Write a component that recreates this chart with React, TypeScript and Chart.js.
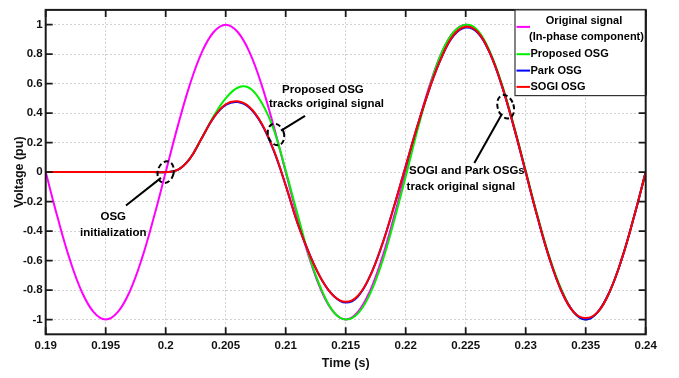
import React, { useEffect, useRef } from 'react';
import { Chart, registerables } from 'chart.js';

Chart.register(...registerables);

const FONT = "'Liberation Sans', Arial, sans-serif";

const time = [
  0.190, 0.191, 0.192, 0.193, 0.194, 0.195, 0.196, 0.197, 0.198, 0.199,
  0.200, 0.201, 0.202, 0.203, 0.204, 0.205, 0.206, 0.207, 0.208, 0.209,
  0.210, 0.211, 0.212, 0.213, 0.214, 0.215, 0.216, 0.217, 0.218, 0.219,
  0.220, 0.221, 0.222, 0.223, 0.224, 0.225, 0.226, 0.227, 0.228, 0.229,
  0.230, 0.231, 0.232, 0.233, 0.234, 0.235, 0.236, 0.237, 0.238, 0.239,
  0.240,
];

const original = [
  0, -0.31, -0.59, -0.81, -0.95, -1, -0.95, -0.81, -0.59, -0.31,
  0, 0.31, 0.59, 0.81, 0.95, 1, 0.95, 0.81, 0.59, 0.31,
  0, -0.31, -0.59, -0.81, -0.95, -1, -0.95, -0.81, -0.59, -0.31,
  0, 0.31, 0.59, 0.81, 0.95, 1, 0.95, 0.81, 0.59, 0.31,
  0, -0.31, -0.59, -0.81, -0.95, -1, -0.95, -0.81, -0.59, -0.31,
  0,
];

const proposedOSG = [
  0, 0, 0, 0, 0, 0, 0, 0, 0, 0,
  0, 0.015, 0.09, 0.23, 0.38, 0.5, 0.572, 0.57, 0.47, 0.29,
  0.01, -0.29, -0.58, -0.8, -0.95, -1, -0.96, -0.83, -0.62, -0.34,
  -0.03, 0.29, 0.58, 0.81, 0.95, 1, 0.96, 0.82, 0.6, 0.32,
  0.01, -0.3, -0.58, -0.8, -0.95, -1, -0.95, -0.81, -0.59, -0.31,
  0,
];

const parkOSG = [
  0, 0, 0, 0, 0, 0, 0, 0, 0, 0,
  0, 0.015, 0.09, 0.23, 0.37, 0.455, 0.475, 0.435, 0.325, 0.145,
  -0.09, -0.35, -0.56, -0.73, -0.84, -0.885, -0.845, -0.71, -0.5, -0.24,
  0.04, 0.32, 0.57, 0.78, 0.925, 0.98, 0.945, 0.81, 0.59, 0.31,
  0, -0.31, -0.59, -0.81, -0.95, -1, -0.95, -0.81, -0.59, -0.31,
  0,
];

const sogiOSG = [
  0, 0, 0, 0, 0, 0, 0, 0, 0, 0,
  0, 0.015, 0.09, 0.23, 0.37, 0.46, 0.48, 0.44, 0.33, 0.15,
  -0.09, -0.35, -0.56, -0.73, -0.84, -0.88, -0.84, -0.71, -0.5, -0.24,
  0.04, 0.32, 0.57, 0.78, 0.93, 0.985, 0.95, 0.81, 0.59, 0.31,
  0, -0.31, -0.59, -0.81, -0.95, -0.99, -0.95, -0.81, -0.59, -0.31,
  0,
];

const xTicks = [0.19, 0.195, 0.2, 0.205, 0.21, 0.215, 0.22, 0.225, 0.23, 0.235, 0.24];
const xTickLabels = ['0.19', '0.195', '0.2', '0.205', '0.21', '0.215', '0.22', '0.225', '0.23', '0.235', '0.24'];
const yTicks = [-1, -0.8, -0.6, -0.4, -0.2, 0, 0.2, 0.4, 0.6, 0.8, 1];
const yTickLabels = ['-1', '-0.8', '-0.6', '-0.4', '-0.2', '0', '0.2', '0.4', '0.6', '0.8', '1'];

const seriesNames = ['Original signal', 'Proposed OSG', 'Park OSG', 'SOGI OSG'];
const seriesColors = ['#ff00ff', '#00f000', '#0000ff', '#ff0000'];

// annotations in data units
const ellipses = [
  { t: 0.2, v: 0.0, rx: 8, ry: 11, rot: 0.25 },
  { t: 0.20919, v: 0.255, rx: 8, ry: 11, rot: -0.3 },
  { t: 0.22833, v: 0.443, rx: 8, ry: 12, rot: -0.3 },
];
const arrows = [
  { t1: 0.19669, v1: -0.227, t2: 0.19961, v2: -0.039 },
  { t1: 0.21161, v1: 0.381, t2: 0.20961, v2: 0.281 },
  { t1: 0.22572, v1: 0.061, t2: 0.22803, v2: 0.395 },
];
const notes = [
  { t: 0.19563, v: -0.305, text: 'OSG' },
  { t: 0.19563, v: -0.412, text: 'initialization' },
  { t: 0.2131, v: 0.561, text: 'Proposed OSG' },
  { t: 0.2134, v: 0.461, text: 'tracks original signal' },
  { t: 0.2251, v: 0.006, text: 'SOGI and Park OSGs' },
  { t: 0.2246, v: -0.099, text: 'track original signal' },
];

const decorPlugin = {
  id: 'decor',
  afterDatasetsDraw(chart: any) {
    const { ctx, chartArea: a, scales } = chart;
    const x = scales.x;
    const y = scales.y;
    ctx.save();
    // frame
    ctx.strokeStyle = '#1a1a1a';
    ctx.lineWidth = 2;
    ctx.setLineDash([]);
    ctx.strokeRect(a.left, a.top, a.right - a.left, a.bottom - a.top);
    // inner ticks
    ctx.lineWidth = 1.8;
    const tl = 7;
    ctx.beginPath();
    xTicks.forEach((v) => {
      const px = x.getPixelForValue(v);
      ctx.moveTo(px, a.bottom);
      ctx.lineTo(px, a.bottom - tl);
      ctx.moveTo(px, a.top);
      ctx.lineTo(px, a.top + tl);
    });
    yTicks.forEach((v) => {
      const py = y.getPixelForValue(v);
      ctx.moveTo(a.left, py);
      ctx.lineTo(a.left + tl, py);
      ctx.moveTo(a.right, py);
      ctx.lineTo(a.right - tl, py);
    });
    ctx.stroke();

    // annotations
    ctx.strokeStyle = '#000';
    ctx.lineWidth = 2;
    ctx.setLineDash([5, 3]);
    ellipses.forEach((e) => {
      ctx.beginPath();
      ctx.ellipse(x.getPixelForValue(e.t), y.getPixelForValue(e.v), e.rx, e.ry, e.rot, 0, Math.PI * 2);
      ctx.stroke();
    });
    ctx.setLineDash([]);
    arrows.forEach((l) => {
      ctx.beginPath();
      ctx.moveTo(x.getPixelForValue(l.t1), y.getPixelForValue(l.v1));
      ctx.lineTo(x.getPixelForValue(l.t2), y.getPixelForValue(l.v2));
      ctx.stroke();
    });
    ctx.fillStyle = '#000';
    ctx.font = `bold 11.5px ${FONT}`;
    ctx.textAlign = 'center';
    ctx.textBaseline = 'middle';
    notes.forEach((n) => {
      ctx.fillText(n.text, x.getPixelForValue(n.t), y.getPixelForValue(n.v));
    });

    // legend box
    const lw = 130.7;
    const lh = 85.7;
    const lx = a.right - lw;
    const ly = a.top;
    ctx.fillStyle = '#fff';
    ctx.fillRect(lx, ly, lw, lh);
    ctx.strokeStyle = '#333';
    ctx.lineWidth = 1.2;
    ctx.strokeRect(lx, ly, lw, lh);
    ctx.strokeStyle = '#1a1a1a';
    ctx.lineWidth = 2;
    ctx.beginPath();
    ctx.moveTo(a.right, a.top);
    ctx.lineTo(a.right, a.top + lh);
    ctx.stroke();

    ctx.fillStyle = '#000';
    ctx.font = `bold 11px ${FONT}`;
    ctx.textAlign = 'center';
    ctx.fillText(seriesNames[0], lx + 69, ly + 11);
    ctx.fillText('(In-phase component)', lx + 71.5, ly + 27.5);
    const rows = [
      { y: ly + 17, i: 0, text: '' },
      { y: ly + 44.3, i: 1, text: seriesNames[1] },
      { y: ly + 60.7, i: 2, text: seriesNames[2] },
      { y: ly + 77, i: 3, text: seriesNames[3] },
    ];
    ctx.textAlign = 'left';
    rows.forEach((r) => {
      ctx.strokeStyle = seriesColors[r.i];
      ctx.lineWidth = 2;
      ctx.beginPath();
      ctx.moveTo(lx + 1.5, r.y);
      ctx.lineTo(lx + 15, r.y);
      ctx.stroke();
      if (r.text) ctx.fillText(r.text, lx + 15.5, r.y);
    });
    ctx.restore();
  },
};

export default function App() {
  const ref = useRef<HTMLCanvasElement | null>(null);
  useEffect(() => {
    if (!ref.current) return;
    const tickFont = { family: FONT, size: 11.5, weight: 'bold' as const };
    const titleFont = { family: FONT, size: 12.5, weight: 'bold' as const };
    const mk = (arr: number[]) => time.map((t, i) => ({ x: t, y: arr[i] }));
    const chart = new Chart(ref.current, {
      type: 'line',
      data: {
        datasets: [
          { label: seriesNames[0], data: mk(original), borderColor: seriesColors[0], order: 3 },
          { label: seriesNames[1], data: mk(proposedOSG), borderColor: seriesColors[1], order: 2 },
          { label: seriesNames[2], data: mk(parkOSG), borderColor: seriesColors[2], order: 1 },
          { label: seriesNames[3], data: mk(sogiOSG), borderColor: seriesColors[3], order: 0 },
        ],
      },
      options: {
        responsive: false,
        animation: false,
        layout: { padding: { left: 0, top: 4, right: 33.3, bottom: 0 } },
        plugins: { legend: { display: false }, tooltip: { enabled: false } },
        elements: {
          point: { radius: 0 },
          line: { borderWidth: 2, tension: 0.4, fill: false },
        },
        scales: {
          x: {
            type: 'linear',
            min: 0.19,
            max: 0.24,
            afterBuildTicks: (s: any) => {
              s.ticks = xTicks.map((v) => ({ value: v }));
            },
            afterFit: (s: any) => {
              s.height = 43.7;
            },
            ticks: {
              callback: (_v: any, i: number) => xTickLabels[i],
              font: tickFont,
              color: '#111',
              padding: 5,
              maxRotation: 0,
              autoSkip: false,
            },
            grid: { color: '#d2d2d2', drawTicks: false, lineWidth: 1 },
            border: { display: false, dash: [2, 2] },
            title: {
              display: true,
              text: 'Time (s)',
              font: titleFont,
              color: '#111',
              padding: { top: 0, bottom: 7 },
            },
          },
          y: {
            type: 'linear',
            min: -1.1,
            max: 1.1,
            afterBuildTicks: (s: any) => {
              s.ticks = yTicks.map((v) => ({ value: v }));
            },
            afterFit: (s: any) => {
              s.width = 45.7;
            },
            ticks: {
              callback: (_v: any, i: number) => yTickLabels[i],
              font: tickFont,
              color: '#111',
              padding: 3,
              autoSkip: false,
            },
            grid: { color: '#d2d2d2', drawTicks: false, lineWidth: 1 },
            border: { display: false, dash: [2, 2] },
            title: {
              display: true,
              text: 'Voltage (pu)',
              font: titleFont,
              color: '#111',
              padding: { top: 12, bottom: 0 },
            },
          },
        },
      },
      plugins: [decorPlugin],
    } as any);
    return () => chart.destroy();
  }, []);
  return (
    <div style={{ position: 'fixed', left: 0, top: 0, width: 679, height: 378, background: '#fff' }}>
      <canvas ref={ref} width={679} height={378} />
    </div>
  );
}
